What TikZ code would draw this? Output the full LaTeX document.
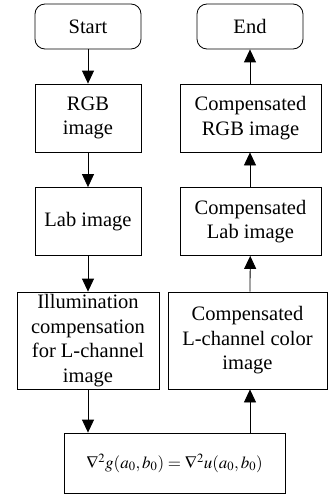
\documentclass[tikz,border=0pt]{standalone}
\usepackage{mathptmx}
\usepackage{fontspec}
\setmainfont{Liberation Serif}
\usetikzlibrary{arrows.meta}
\tikzset{>={Triangle[width=12pt,length=13pt]}}
\tikzset{
  term/.style={draw, rounded corners=10pt, minimum width=106pt, minimum height=45pt, inner sep=0pt},
  proc/.style={draw, minimum height=68pt, inner sep=0pt, align=center},
}

\begin{document}
\begin{tikzpicture}[x=1pt,y=-1pt,font=\fontsize{20.5}{24.5}\selectfont,line width=0.8pt]
\useasboundingbox (0,0) rectangle (328,503);
% left column
\node[term] (start) at (88,26.5) {Start};
\node[proc, minimum width=106pt] (rgb) at (88,118) {RGB\\image};
\node[proc, minimum width=106pt] (lab) at (88,221.5) {Lab image};
\node[proc, minimum width=142pt, minimum height=97pt] (illum) at (88,340.5) {Illumination\\compensation\\for L-channel\\image};
% bottom
\node[proc, minimum width=221pt, minimum height=60pt, font=\fontsize{17}{20}\selectfont] (grad) at (174.5,463)
  {$\nabla^2 g(a_0,b_0)=\nabla^2 u(a_0,b_0)$};
% right column
\node[term] (end) at (250,26.5) {End};
\node[proc, minimum width=141pt] (crgb) at (250.5,118) {Compensated\\RGB image};
\node[proc, minimum width=141pt] (clab) at (250.5,221.5) {Compensated\\Lab image};
\node[proc, minimum width=159pt, minimum height=97pt] (cl) at (247.5,340.5) {Compensated\\L-channel color\\image};

\draw[->] (start) -- (rgb);
\draw[->] (rgb) -- (lab);
\draw[->] (lab) -- (illum);
\draw[->] (illum) -- (illum |- grad.north);
\draw[->] (grad.north -| end) -- (cl.south -| end);
\draw[->] (cl.north -| end) -- (clab);
\draw[->] (clab.north -| end) -- (crgb.south -| end);
\draw[->] (crgb.north -| end) -- (end);
\end{tikzpicture}
\end{document}
